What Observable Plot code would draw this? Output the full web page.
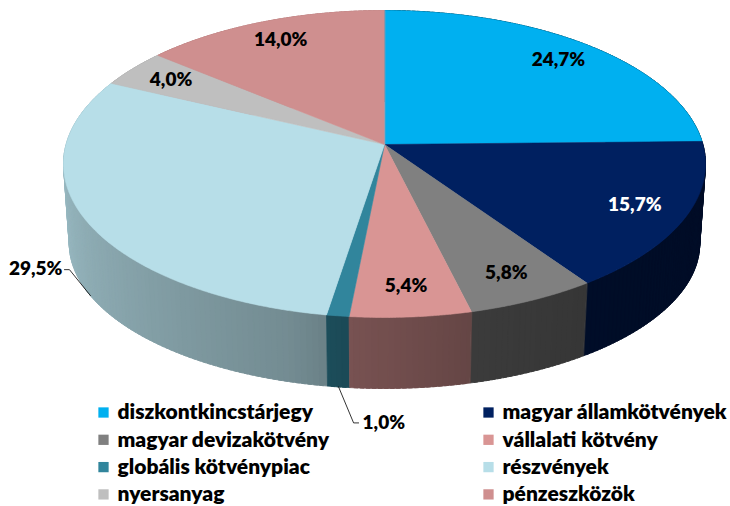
<!DOCTYPE html>
<html><head><meta charset="utf-8">
<script src="https://cdn.jsdelivr.net/npm/d3@7"></script>
<script src="https://cdn.jsdelivr.net/npm/@observablehq/plot@0.6"></script>
<style>body{margin:0;background:#fff;} #chart{width:730px;height:506px;}</style>
</head><body><div id="chart"></div>
<script>
// ---- data ----
const categories = ["diszkontkincstárjegy","magyar államkötvények","magyar devizakötvény","vállalati kötvény","globális kötvénypiac","részvények","nyersanyag","pénzeszközök"];
const values = [24.7, 15.7, 5.8, 5.4, 1.0, 29.5, 4.0, 14.0];
const labels = ["24,7%","15,7%","5,8%","5,4%","1,0%","29,5%","4,0%","14,0%"];
// ---- styles ----
const palette = ["#00B0F0","#002060","#808080","#D99594","#31859C","#B7DEE8","#BFBFBF","#CF8F8F"];
const labelInk = ["#000","#fff","#000","#000","#000","#000","#000","#000"];
const FONT = "Lato, 'Open Sans', sans-serif";

// ---- 3D perspective geometry ----
const W = 730, H = 506;
const CX = 384, CY = 144, A = 318.4, B = 151, K = -0.127;
const rad = Math.PI / 180;
function topPt(t, r = 1) {
  const u = r * Math.sin(t * rad), v = -r * Math.cos(t * rad), d = 1 + K * v;
  return [CX + A * u / d, CY + B * v / d];
}
function botPt(t) {
  const [x, y] = topPt(t, 1);
  const v = -Math.cos(t * rad);
  return [CX + (x - CX) * 0.982, y + 81 - 10 * v];
}
const total = d3.sum(values);
let acc = 0;
const slices = values.map((val, i) => {
  const a0 = acc / total * 360; acc += val; const a1 = acc / total * 360;
  return {i, a0, a1, mid: (a0 + a1) / 2};
});

// top faces
const faces = [];
slices.forEach(s => {
  const [cx, cy] = topPt(0, 0);
  faces.push({id: s.i, x: cx, y: cy, fill: palette[s.i]});
  const n = Math.max(2, Math.ceil((s.a1 - s.a0) / 0.5));
  for (let k = 0; k <= n; k++) {
    const [x, y] = topPt(s.a0 + (s.a1 - s.a0) * k / n);
    faces.push({id: s.i, x, y, fill: palette[s.i]});
  }
});

// side walls with lighting
const shade = d3.scaleLinear()
  .domain([0, 90, 140, 165, 185, 195, 230, 270, 360])
  .range([0.40, 0.40, 0.41, 0.46, 0.55, 0.63, 0.74, 0.86, 0.90]).clamp(true);
function darken(c, f) { const r = d3.rgb(c); return d3.rgb(r.r * f, r.g * f, r.b * f).formatHex(); }
const quadList = [];
slices.forEach(s => {
  const n = Math.max(1, Math.ceil((s.a1 - s.a0) / 1));
  for (let k = 0; k < n; k++) {
    const t0 = s.a0 + (s.a1 - s.a0) * k / n, t1 = s.a0 + (s.a1 - s.a0) * (k + 1) / n, tm = (t0 + t1) / 2;
    const e0 = k === 0 ? t0 : t0 - 0.3, e1 = k === n - 1 ? t1 : t1 + 0.3;
    quadList.push({key: -Math.cos(tm * rad), fill: darken(palette[s.i], shade(tm)), pts: [topPt(e0), topPt(e1), botPt(e1), botPt(e0)]});
  }
});
quadList.sort((a, b) => a.key - b.key);
const sides = [];
quadList.forEach((q, j) => q.pts.forEach(([x, y]) => sides.push({id: j, x, y, fill: q.fill})));

// labels
const outsideOffsets = {4: {knee: [15, 36], end: [20, 36], text: [24, 36], anchor: "start"},
                        5: {knee: [-21, -26], end: [-26, -26], text: [-28, -27], anchor: "end"}};
const inside = slices.filter(s => !(s.i in outsideOffsets)).map(s => {
  const [x, y] = topPt(s.mid, 0.84);
  return {x, y, text: labels[s.i], ink: labelInk[s.i]};
});
const leaderRows = [], outside = [];
slices.filter(s => s.i in outsideOffsets).forEach(s => {
  const o = outsideOffsets[s.i];
  const [x, y] = botPt(s.mid);
  leaderRows.push({id: s.i, x, y}, {id: s.i, x: x + o.knee[0], y: y + o.knee[1]}, {id: s.i, x: x + o.end[0], y: y + o.end[1]});
  outside.push({x: x + o.text[0], y: y + o.text[1], text: labels[s.i], anchor: o.anchor});
});

// legend
const legend = categories.map((c, i) => ({c, i, x: [103, 488][i % 2], y: 412 + Math.floor(i / 2) * 27.3}));

const chart = Plot.plot({
  width: W, height: H, margin: 0,
  x: {domain: [0, W], range: [0, W], axis: null},
  y: {domain: [0, H], range: [0, H], axis: null},
  color: {type: "identity"},
  style: {fontFamily: FONT, background: "#fff"},
  marks: [
    Plot.line(sides, {x: "x", y: "y", z: "id", fill: "fill", stroke: "fill", strokeWidth: 0.8, curve: "linear-closed"}),
    Plot.line(faces, {x: "x", y: "y", z: "id", fill: "fill", stroke: "fill", strokeWidth: 0.6, curve: "linear-closed"}),
    Plot.line(leaderRows, {x: "x", y: "y", z: "id", stroke: "#000", strokeWidth: 0.8}),
    Plot.text(inside, {x: "x", y: "y", text: "text", fill: "ink", fontSize: 19, fontWeight: 800, fontFamily: FONT}),
    Plot.text(outside.filter(d => d.anchor === "start"), {x: "x", y: "y", text: "text", fill: "#000", fontSize: 19, fontWeight: 800, textAnchor: "start", fontFamily: FONT}),
    Plot.text(outside.filter(d => d.anchor === "end"), {x: "x", y: "y", text: "text", fill: "#000", fontSize: 19, fontWeight: 800, textAnchor: "end", fontFamily: FONT}),
    Plot.dot(legend, {x: "x", y: "y", symbol: "square", r: 5.8, fill: d => palette[d.i], stroke: null}),
    Plot.text(legend, {x: d => d.x + 14, y: "y", text: "c", fill: "#000", fontSize: 21, fontWeight: 800, textAnchor: "start", fontFamily: FONT})
  ]
});
document.getElementById("chart").appendChild(chart);
</script>
</body></html>
